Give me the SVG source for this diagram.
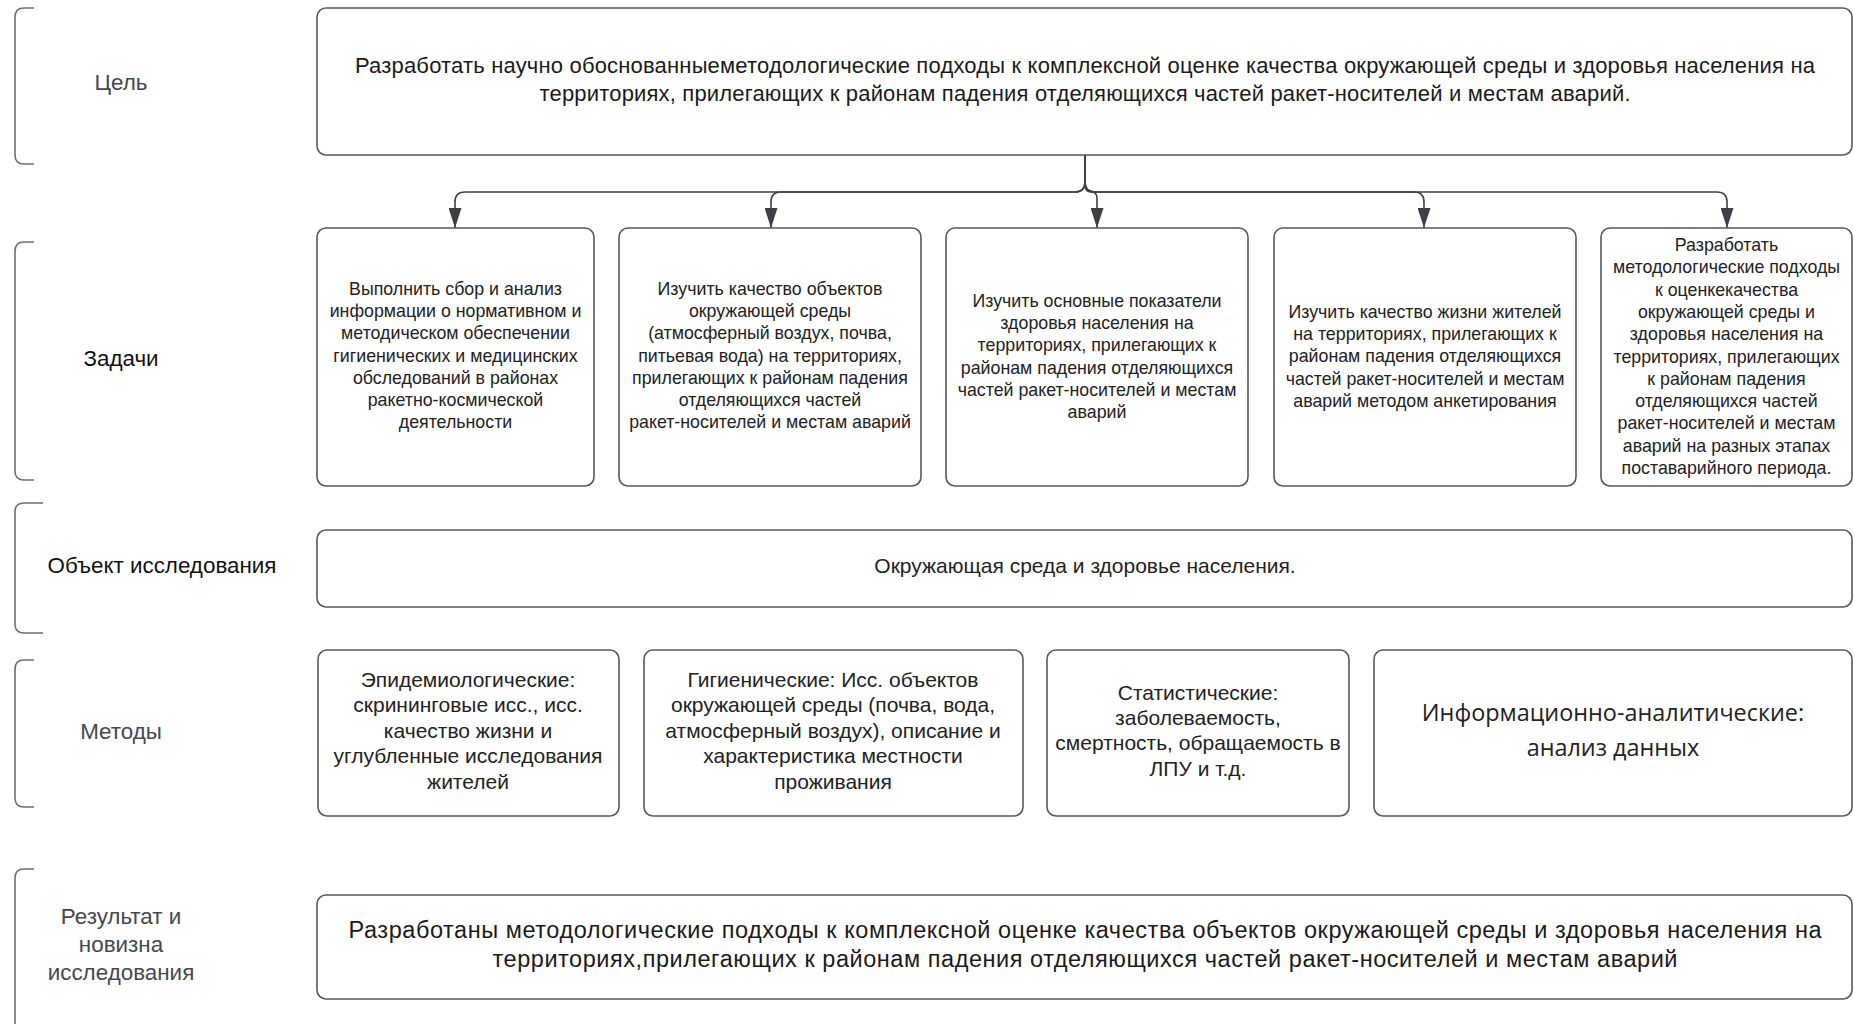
<svg xmlns="http://www.w3.org/2000/svg" width="1854" height="1024" viewBox="0 0 1854 1024">
<defs>
<style>
.box{fill:#fff;stroke:#55595e;stroke-width:1.6}
.br{fill:none;stroke:#6b6e72;stroke-width:1.6}
.lbl{font-family:"Liberation Sans",Arial,sans-serif;font-size:22.4px;text-anchor:middle}
.g{fill:#45484c}
.k{fill:#111}
.t{font-family:"Liberation Sans",Arial,sans-serif;font-size:17.8px;fill:#222;text-anchor:middle}
.m{font-family:"Liberation Sans",Arial,sans-serif;font-size:21px;fill:#222;text-anchor:middle}
.big{font-family:"Liberation Sans",Arial,sans-serif;fill:#1a1a1a;text-anchor:middle}
.os{font-family:"Open Sans","Noto Sans",sans-serif;font-size:23.4px;fill:#222;text-anchor:middle}
.con{fill:none;stroke:#3d4147;stroke-width:1.6}
</style>
<marker id="ah" viewBox="0 0 20 13" refX="20" refY="6.5" markerWidth="20" markerHeight="13" markerUnits="userSpaceOnUse" orient="auto">
<path d="M0,0 L20,6.5 L0,13 z" fill="#3d4147"/>
</marker>
</defs>
<rect width="1854" height="1024" fill="#fff"/>

<g id="labels">
<path class="br" d="M34,8 H24 Q15,8 15,17 V155 Q15,164 24,164 H34"/>
<text class="lbl g" x="121" y="90">Цель</text>
<path class="br" d="M34,242 H24 Q15,242 15,251 V471 Q15,480 24,480 H34"/>
<text class="lbl k" x="121" y="366">Задачи</text>
<path class="br" d="M43,503 H24 Q15,503 15,512 V624 Q15,633 24,633 H43"/>
<text class="lbl k" x="162" y="573">Объект исследования</text>
<path class="br" d="M34,660 H24 Q15,660 15,669 V798 Q15,807 24,807 H34"/>
<text class="lbl g" x="121" y="739">Методы</text>
<path class="br" d="M34,869 H24 Q15,869 15,878 V1040"/>
<text class="lbl g" x="121" y="924">Результат и</text>
<text class="lbl g" x="121" y="952">новизна</text>
<text class="lbl g" x="121" y="980">исследования</text>
</g>

<g id="connectors">
<path class="con" marker-end="url(#ah)" d="M1085,155 V182 Q1085,192 1075,192 H465 Q455,192 455,202 V228"/>
<path class="con" marker-end="url(#ah)" d="M1085,155 V182 Q1085,192 1075,192 H781 Q771,192 771,202 V228"/>
<path class="con" marker-end="url(#ah)" d="M1085,155 V184 Q1085,192 1091,192 Q1097,192 1097,198 V228"/>
<path class="con" marker-end="url(#ah)" d="M1085,155 V182 Q1085,192 1095,192 H1414 Q1424,192 1424,202 V228"/>
<path class="con" marker-end="url(#ah)" d="M1085,155 V182 Q1085,192 1095,192 H1717 Q1727,192 1727,202 V228"/>
</g>

<g id="goal">
<rect class="box" x="317" y="8" width="1535" height="147" rx="9"/>
<text class="big" font-size="22" x="1085" y="73" textLength="1460">Разработать научно обоснованныеметодологические подходы к комплексной оценке качества окружающей среды и здоровья населения на</text>
<text class="big" font-size="22" x="1085" y="101" textLength="1091">территориях, прилегающих к районам падения отделяющихся частей ракет-носителей и местам аварий.</text>
</g>

<g id="task1">
<rect class="box" x="317" y="228" width="277" height="258" rx="9"/>
<text class="t" x="455.5" y="295">Выполнить сбор и анализ</text>
<text class="t" x="455.5" y="317">информации о нормативном и</text>
<text class="t" x="455.5" y="339">методическом обеспечении</text>
<text class="t" x="455.5" y="362">гигиенических и медицинских</text>
<text class="t" x="455.5" y="384">обследований в районах</text>
<text class="t" x="455.5" y="406">ракетно-космической</text>
<text class="t" x="455.5" y="428">деятельности</text>
</g>

<g id="task2">
<rect class="box" x="619" y="228" width="302" height="258" rx="9"/>
<text class="t" x="770" y="295">Изучить качество объектов</text>
<text class="t" x="770" y="317">окружающей среды</text>
<text class="t" x="770" y="339">(атмосферный воздух, почва,</text>
<text class="t" x="770" y="362">питьевая вода) на территориях,</text>
<text class="t" x="770" y="384">прилегающих к районам падения</text>
<text class="t" x="770" y="406">отделяющихся частей</text>
<text class="t" x="770" y="428">ракет-носителей и местам аварий</text>
</g>

<g id="task3">
<rect class="box" x="946" y="228" width="302" height="258" rx="9"/>
<text class="t" x="1097" y="307">Изучить основные показатели</text>
<text class="t" x="1097" y="329">здоровья населения на</text>
<text class="t" x="1097" y="351">территориях, прилегающих к</text>
<text class="t" x="1097" y="374">районам падения отделяющихся</text>
<text class="t" x="1097" y="396">частей ракет-носителей и местам</text>
<text class="t" x="1097" y="418">аварий</text>
</g>

<g id="task4">
<rect class="box" x="1274" y="228" width="302" height="258" rx="9"/>
<text class="t" x="1425" y="318">Изучить качество жизни жителей</text>
<text class="t" x="1425" y="340">на территориях, прилегающих к</text>
<text class="t" x="1425" y="362">районам падения отделяющихся</text>
<text class="t" x="1425" y="385">частей ракет-носителей и местам</text>
<text class="t" x="1425" y="407">аварий методом анкетирования</text>
</g>

<g id="task5">
<rect class="box" x="1601" y="228" width="251" height="258" rx="9"/>
<text class="t" x="1726.5" y="251">Разработать</text>
<text class="t" x="1726.5" y="273">методологические подходы</text>
<text class="t" x="1726.5" y="296">к оценкекачества</text>
<text class="t" x="1726.5" y="318">окружающей среды и</text>
<text class="t" x="1726.5" y="340">здоровья населения на</text>
<text class="t" x="1726.5" y="363">территориях, прилегающих</text>
<text class="t" x="1726.5" y="385">к районам падения</text>
<text class="t" x="1726.5" y="407">отделяющихся частей</text>
<text class="t" x="1726.5" y="429">ракет-носителей и местам</text>
<text class="t" x="1726.5" y="452">аварий на разных этапах</text>
<text class="t" x="1726.5" y="474">поставарийного периода.</text>
</g>

<g id="object">
<rect class="box" x="317" y="530" width="1535" height="77" rx="9"/>
<text class="m" x="1085" y="573" font-size="21.2">Окружающая среда и здоровье населения.</text>
</g>

<g id="method1">
<rect class="box" x="318" y="650" width="301" height="166" rx="9"/>
<text class="m" x="468" y="687">Эпидемиологические:</text>
<text class="m" x="468" y="712">скрининговые исс., исс.</text>
<text class="m" x="468" y="738">качество жизни и</text>
<text class="m" x="468" y="763">углубленные исследования</text>
<text class="m" x="468" y="789">жителей</text>
</g>

<g id="method2">
<rect class="box" x="644" y="650" width="379" height="166" rx="9"/>
<text class="m" x="833" y="687">Гигиенические: Исс. объектов</text>
<text class="m" x="833" y="712">окружающей среды (почва, вода,</text>
<text class="m" x="833" y="738">атмосферный воздух), описание и</text>
<text class="m" x="833" y="763">характеристика местности</text>
<text class="m" x="833" y="789">проживания</text>
</g>

<g id="method3">
<rect class="box" x="1047" y="650" width="302" height="166" rx="9"/>
<text class="m" x="1198" y="700">Статистические:</text>
<text class="m" x="1198" y="725">заболеваемость,</text>
<text class="m" x="1198" y="750">смертность, обращаемость в</text>
<text class="m" x="1198" y="776">ЛПУ и т.д.</text>
</g>

<g id="method4">
<rect class="box" x="1374" y="650" width="478" height="166" rx="9"/>
<text class="os" x="1613" y="721">Информационно-аналитические:</text>
<text class="os" x="1613" y="756">анализ данных</text>
</g>

<g id="result">
<rect class="box" x="317" y="895" width="1535" height="104" rx="9"/>
<text class="big" font-size="23.5" x="1085" y="938" textLength="1473">Разработаны методологические подходы к комплексной оценке качества объектов окружающей среды и здоровья населения на</text>
<text class="big" font-size="23.5" x="1085" y="967" textLength="1185">территориях,прилегающих к районам падения отделяющихся частей ракет-носителей и местам аварий</text>
</g>
</svg>
